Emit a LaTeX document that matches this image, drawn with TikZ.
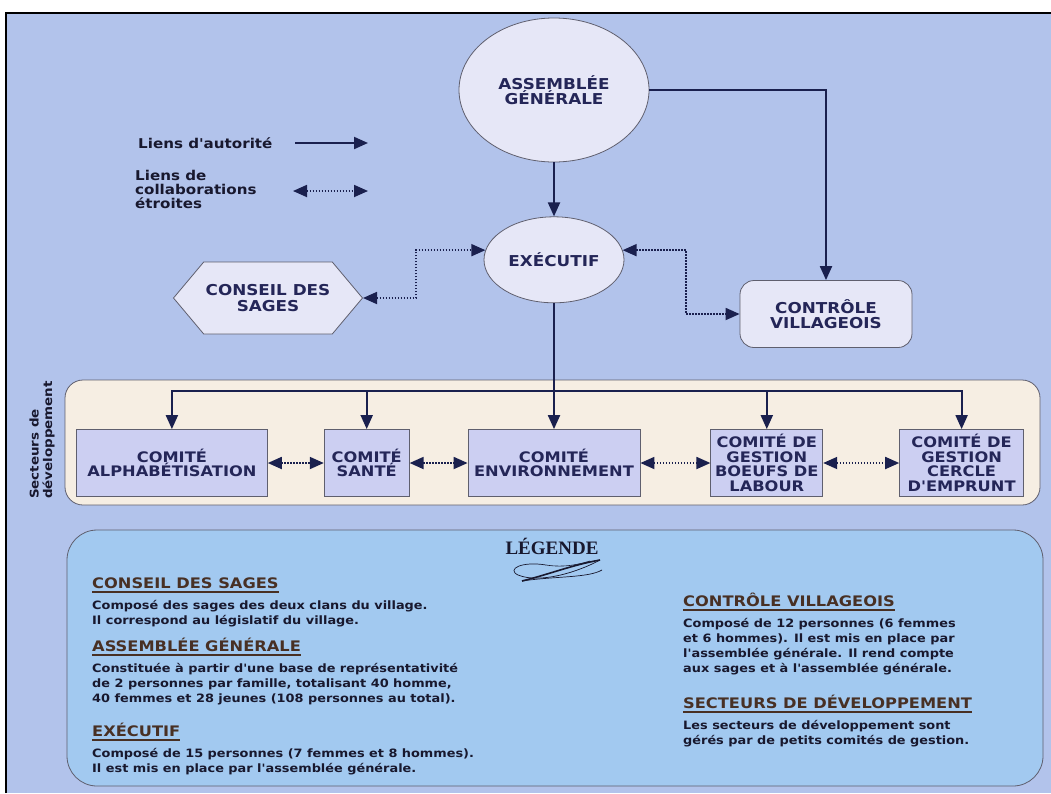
\documentclass[tikz,border=0pt]{standalone}
\usepackage{fontspec}
\setmainfont{DejaVu Sans}
\newfontfamily\verd[FakeStretch=1.12]{DejaVu Sans}
\newfontfamily\titrefont{Liberation Serif}
\usetikzlibrary{shapes.geometric, shapes.symbols, arrows.meta, positioning}

\definecolor{fondbleu}{RGB}{178,195,235}
\definecolor{nodeclair}{RGB}{230,231,247}
\definecolor{comitelilas}{RGB}{204,207,242}
\definecolor{creme}{RGB}{246,238,227}
\definecolor{legbleu}{RGB}{162,201,240}
\definecolor{trait}{RGB}{26,32,78}
\definecolor{bordgris}{RGB}{95,95,110}
\definecolor{encre}{RGB}{36,38,88}
\definecolor{brunfonce}{RGB}{72,48,36}
\definecolor{noirbleu}{RGB}{24,24,46}

\tikzset{
    organe/.style={ellipse, draw=bordgris, line width=0.8pt, fill=nodeclair, text=encre, align=center, font=\verd\bfseries\fontsize{15}{15.5}\selectfont, inner sep=0pt},
    sages/.style={signal, signal to=west and east, signal pointer angle=100, draw=bordgris, line width=0.8pt, fill=nodeclair, text=encre, align=center, font=\verd\bfseries\fontsize{15}{15.5}\selectfont, minimum width=168pt, minimum height=72pt, inner sep=2pt},
    controle/.style={rectangle, rounded corners=14pt, draw=bordgris, line width=0.8pt, fill=nodeclair, text=encre, align=center, font=\verd\bfseries\fontsize{15}{15.5}\selectfont, minimum width=172pt, minimum height=67pt},
    comite/.style={rectangle, draw=bordgris, line width=0.8pt, fill=comitelilas, text=encre, align=center, font=\verd\bfseries\fontsize{14.5}{14.5}\selectfont, minimum height=67pt, inner sep=0pt},
    autorite/.style={-{Triangle[length=14pt,width=12pt]}, draw=trait, line width=2pt},
    collab/.style={{Triangle[length=14pt,width=12pt]}-{Triangle[length=14pt,width=12pt]}, draw=trait, line width=1.8pt, dash pattern=on 1.5pt off 1.5pt},
    rubrique/.style={font=\verd\bfseries\fontsize{14.5}{16}\selectfont, text=brunfonce, inner sep=0pt},
    corps/.style={font=\verd\bfseries\fontsize{11.5}{15}\selectfont, text=noirbleu, align=left, inner sep=0pt},
    souligne/.style={draw=brunfonce, line width=1.3pt},
    lien/.style={font=\verd\bfseries\fontsize{13.5}{14}\selectfont, text=noirbleu, align=left, inner sep=0pt}
}

\newcommand{\rubrique}[3]{%
    \node[rubrique, anchor=base west] (#1) at (#2) {#3};
    \draw[souligne] ([yshift=-4pt]#1.base west) -- ([yshift=-4pt]#1.base east);}

\begin{document}
\begin{tikzpicture}[x=1pt, y=-1pt, node distance=20pt]
\useasboundingbox (0,0) rectangle (1051,793);
% fond et cadre
\fill[white] (0,0) rectangle (1051,793);
\fill[fondbleu] (6,13) rectangle (1051,793);
\draw[black, line width=2.5pt] (6,793) -- (6,13) -- (1051,13);

% cadres des secteurs et de la legende
\draw[bordgris, fill=creme, rounded corners=18pt, line width=0.8pt] (65,380) rectangle (1040,505);
\draw[bordgris, fill=legbleu, rounded corners=30pt, line width=0.8pt] (67,530) rectangle (1043,786);

% organes
\node[organe, minimum width=190pt, minimum height=144pt] (ag) at (554,90) {ASSEMBLÉE\\GÉNÉRALE};
\node[organe, minimum width=140pt, minimum height=86pt, below=54pt of ag] (ex) {EXÉCUTIF};
\node[sages] (cs) at (268,298) {CONSEIL DES\\SAGES};
\node[controle] (cv) at (826,314) {CONTRÔLE\\VILLAGEOIS};

% comites
\node[comite, minimum width=172pt] (env) at (554,463) {COMITÉ\\ENVIRONNEMENT};
\node[comite, minimum width=85pt, left=58pt of env] (sante) {COMITÉ\\SANTÉ};
\node[comite, minimum width=191pt, left=56pt of sante] (alpha) {COMITÉ\\ALPHABÉTISATION};
\node[comite, minimum width=112pt, right=70pt of env] (boeufs) {COMITÉ DE\\GESTION\\BOEUFS DE\\LABOUR};
\node[comite, minimum width=124pt, right=76pt of boeufs] (cercle) {COMITÉ DE\\GESTION\\CERCLE\\D'EMPRUNT};

\node[lien, font=\verd\bfseries\fontsize{12}{13.5}\selectfont, rotate=90] (sd) at (42,440) {Secteurs de\\développement};

% liens d'autorite
\draw[autorite] (ag) -- (ex);
\draw[autorite] (ag.east) -| (cv.north);
\coordinate (bus) at (554,391);
\draw[autorite] (ex.south) -- (env.north);
\draw[autorite] (bus) -| (alpha.north);
\draw[autorite] (bus) -| (cercle.north);
\foreach \c in {sante,boeufs}
    \draw[autorite] (\c.north |- bus) -- (\c.north);

% liens de collaboration
\coordinate (kg) at (416,0);
\coordinate (kd) at (686,0);
\draw[collab] (cs.east) -- (cs.east -| kg) |- (ex.172);
\draw[collab] (ex.8) -- (ex.8 -| kd) |- (cv.west);
\draw[collab] (alpha) -- (sante);
\draw[collab] (sante) -- (env);
\draw[collab] (env) -- (boeufs);
\draw[collab] (boeufs) -- (cercle);

% cle des liens
\node[lien, anchor=west] (la) at (138,143) {Liens d'autorité};
\coordinate (la1) at (295,143);
\coordinate (la2) at (368,143);
\draw[autorite] (la1) -- (la2);
\node[lien, anchor=west] (lc) at (135,189) {Liens de\\collaborations\\étroites};
\coordinate (lc1) at (293,191);
\coordinate (lc2) at (368,191);
\draw[collab] (lc1) -- (lc2);

% legende
\node[font=\titrefont\bfseries\fontsize{19}{20}\selectfont, text=noirbleu] (leg) at (552,546) {LÉGENDE};
\draw[noirbleu, line width=1.6pt] (522,581) .. controls (550,574) and (572,565) .. (600,560);
\draw[noirbleu, line width=0.7pt] (600,560) .. controls (578,572) and (540,584) .. (518,575) .. controls (506,569) and (522,561) .. (546,565);
\draw[noirbleu, line width=0.7pt] (522,581) .. controls (556,576) and (588,578) .. (602,570);
\draw[noirbleu, line width=0.6pt] (546,565) .. controls (565,568) and (580,564) .. (590,561);

\rubrique{cs-t}{92,588}{CONSEIL DES SAGES}
\node[corps, below=12pt of cs-t.base west, anchor=north west] (cs-c) {Composé des sages des deux clans du village.\\Il correspond au législatif du village.};
\rubrique{ag-t}{92,651}{ASSEMBLÉE GÉNÉRALE}
\node[corps, below=12pt of ag-t.base west, anchor=north west] (ag-c) {Constituée à partir d'une base de représentativité\\de 2 personnes par famille, totalisant 40 homme,\\40 femmes et 28 jeunes (108 personnes au total).};
\rubrique{ex-t}{92,736}{EXÉCUTIF}
\node[corps, below=12pt of ex-t.base west, anchor=north west] (ex-c) {Composé de 15 personnes (7 femmes et 8 hommes).\\Il est mis en place par l'assemblée générale.};
\rubrique{cv-t}{683,606}{CONTRÔLE VILLAGEOIS}
\node[corps, below=12pt of cv-t.base west, anchor=north west] (cv-c) {Composé de 12 personnes (6 femmes\\et 6 hommes). Il est mis en place par\\l'assemblée générale. Il rend compte\\aux sages et à l'assemblée générale.};
\rubrique{sd-t}{683,708}{SECTEURS DE DÉVELOPPEMENT}
\node[corps, below=12pt of sd-t.base west, anchor=north west] (sd-c) {Les secteurs de développement sont\\gérés par de petits comités de gestion.};
\end{tikzpicture}
\end{document}
